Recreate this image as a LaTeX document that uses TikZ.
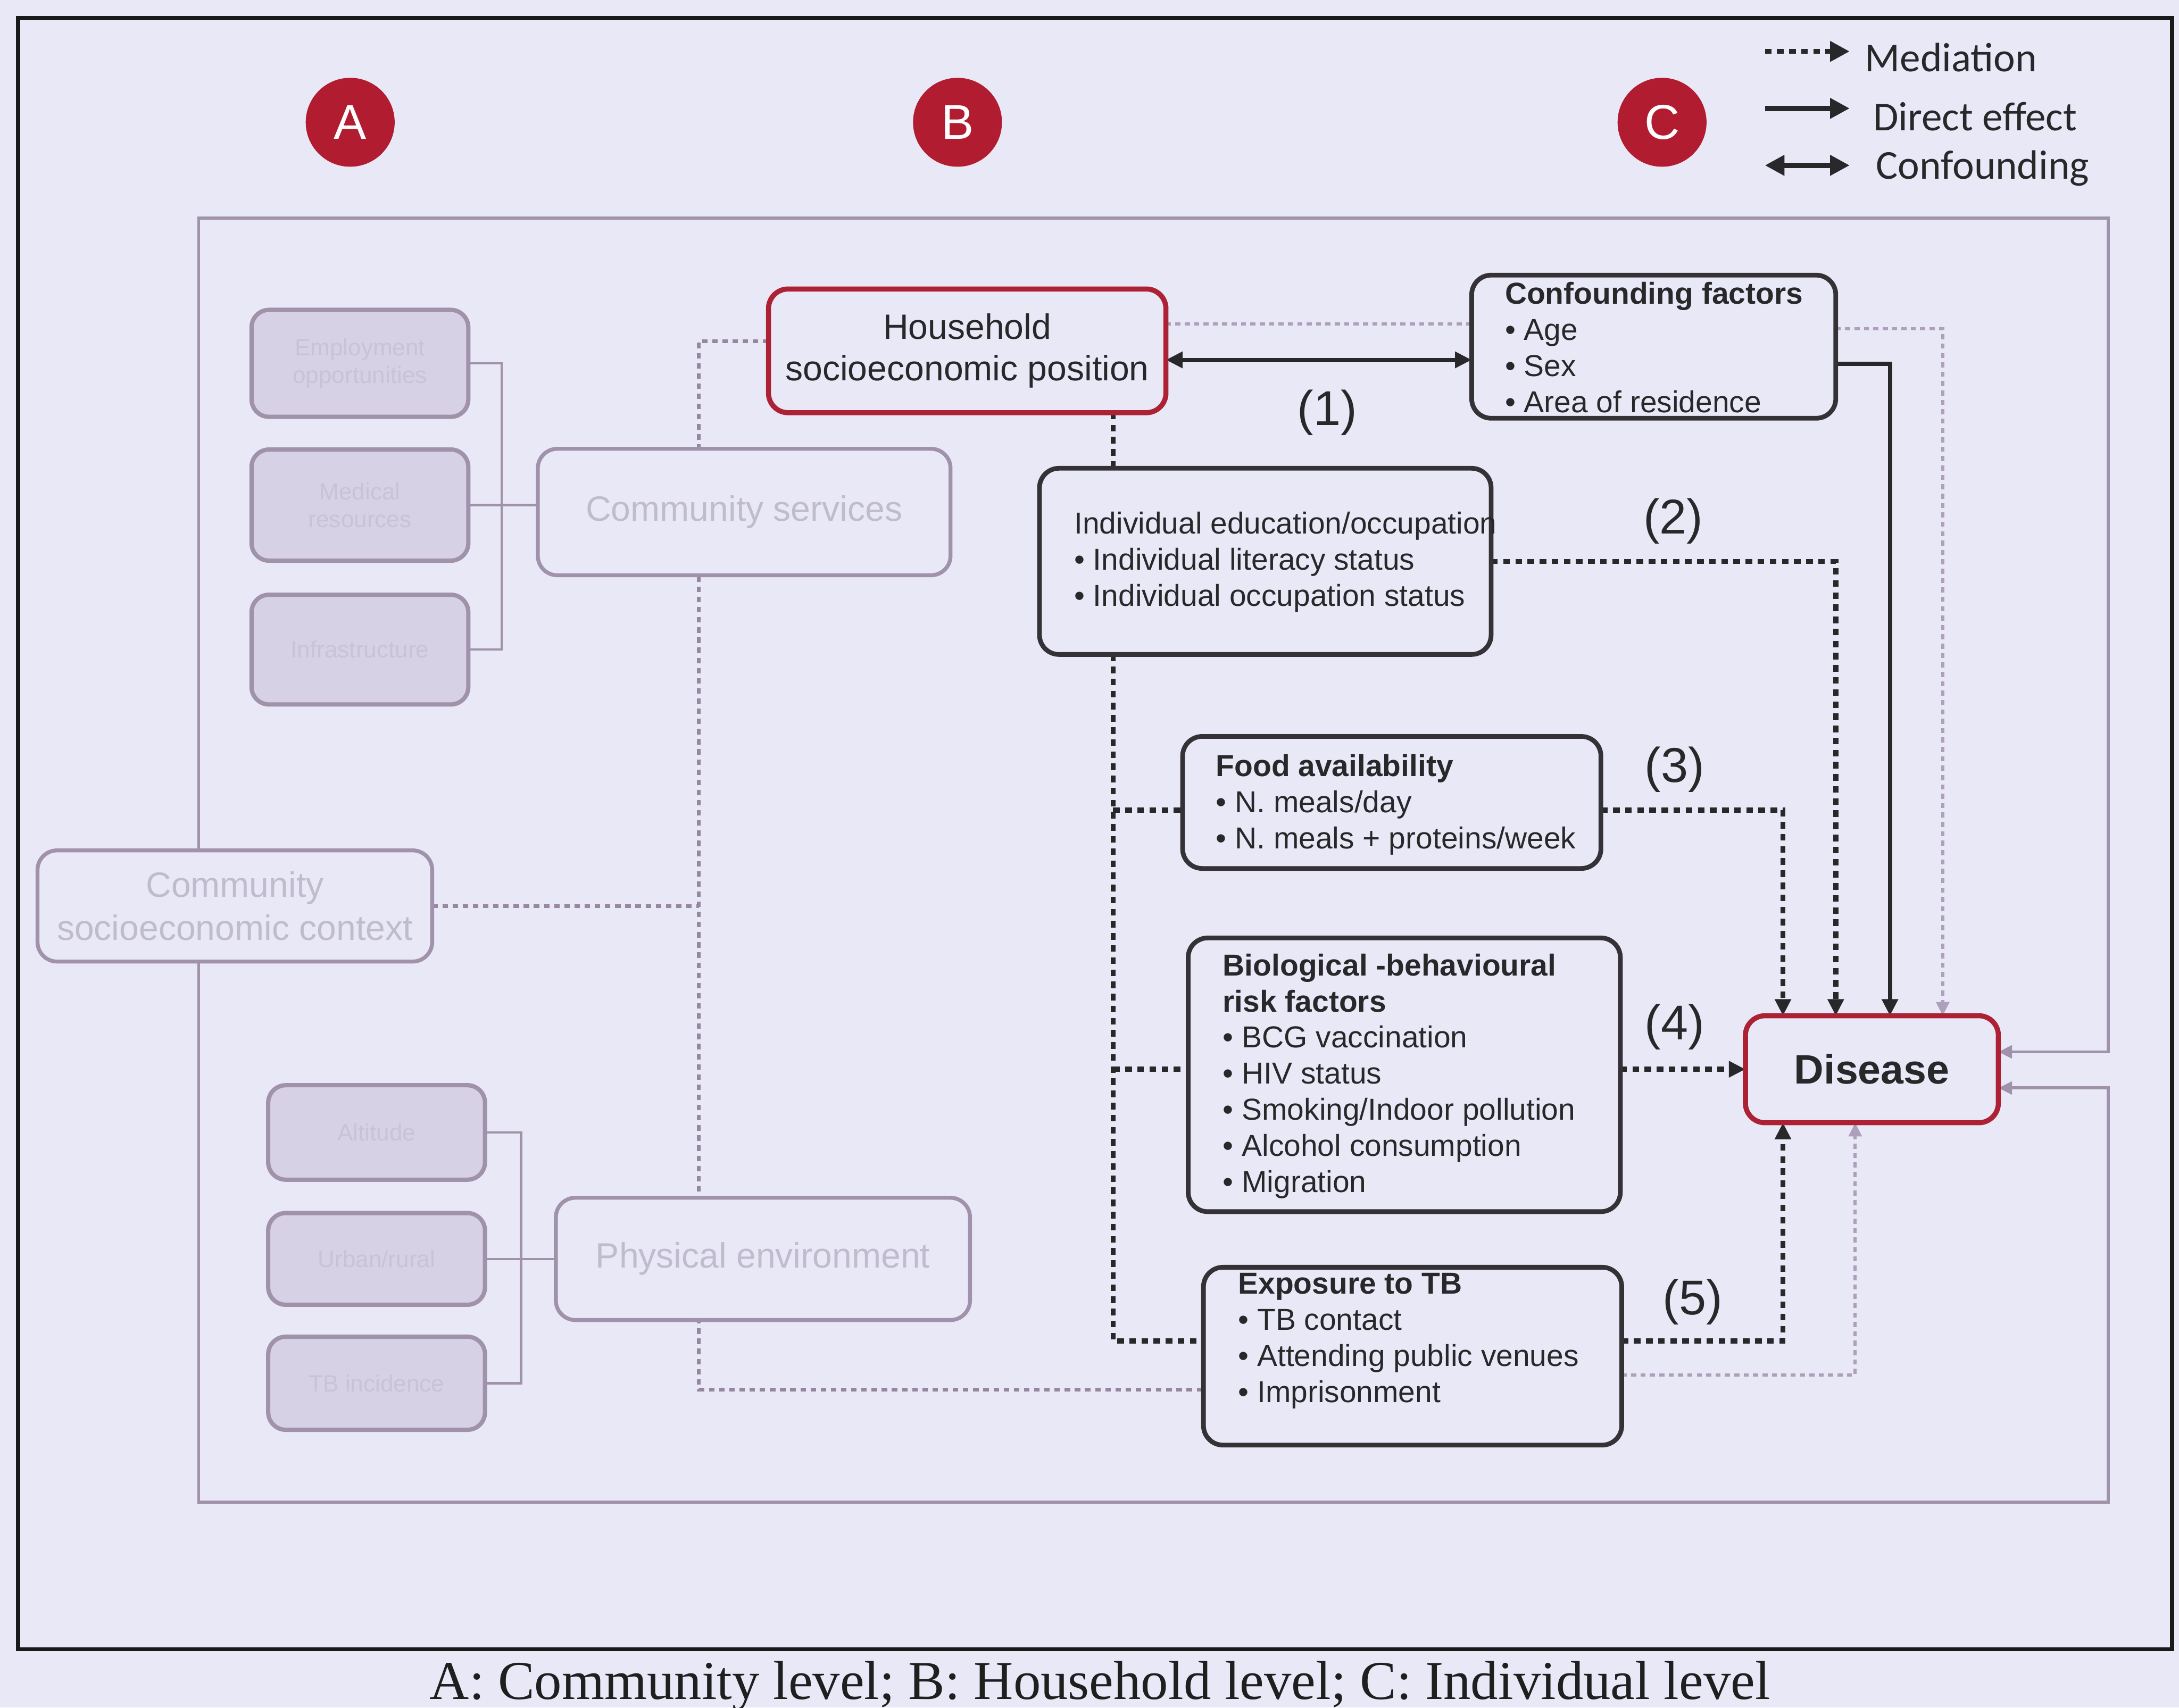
\documentclass[tikz,border=0pt]{standalone}
\usepackage{fontspec}
\setmainfont{Liberation Sans}
\newfontfamily\legendfont{Carlito}
\newfontfamily\capfont{Liberation Serif}
\usetikzlibrary{arrows.meta,calc}
\pgfdeclarelayer{paper}
\pgfdeclarelayer{links}
\pgfsetlayers{paper,links,main}

\definecolor{pagebg}{RGB}{233,232,247}
\definecolor{ink}{RGB}{40,40,42}
\definecolor{boxline}{RGB}{52,50,54}
\definecolor{sepred}{RGB}{172,34,52}
\definecolor{badge}{RGB}{178,28,48}
\definecolor{fadeline}{RGB}{160,146,170}
\definecolor{bdot}{RGB}{150,134,160}
\definecolor{fadedot}{RGB}{172,160,186}
\definecolor{fadetext}{RGB}{192,188,206}
\definecolor{fadefill}{RGB}{214,209,228}
\definecolor{ghosttext}{RGB}{200,196,216}

\begin{document}
\begin{tikzpicture}[x=0.025cm, y=-0.025cm,
  every node/.style={inner sep=0pt, outer sep=0pt, text=ink},
  sz/.style n args={2}{minimum width=#1*0.025cm, minimum height=#2*0.025cm},
  mainbox/.style={draw=boxline, line width=2.4pt, rounded corners=10pt, fill=pagebg},
  redbox/.style={draw=sepred, line width=2.6pt, rounded corners=10pt, fill=pagebg},
  fadebox/.style={draw=fadeline, line width=2pt, rounded corners=10pt, fill=pagebg, text=fadetext},
  greybox/.style={draw=fadeline, line width=2.2pt, rounded corners=9pt, fill=fadefill,
    text=ghosttext, font=\fontsize{12}{14}\selectfont, align=center},
  boxtext/.style={anchor=west, align=left, font=\fontsize{15.5}{18.5}\selectfont},
  pathno/.style={font=\fontsize{25}{30}\selectfont},
  badgestyle/.style={circle, fill=badge, minimum size=64*0.025cm, text=white,
    font=\fontsize{25}{30}\selectfont},
  legendtext/.style={anchor=base west, font=\legendfont\fontsize{21}{25}\selectfont},
  mediation/.style={draw=ink, line width=2.6pt, dash pattern=on 3.4pt off 2.8pt},
  fademed/.style={draw=fadedot, line width=1.7pt, dash pattern=on 2.6pt off 2.2pt},
  bline/.style={draw=bdot, line width=1.9pt, dash pattern=on 2.8pt off 2.4pt},
  direct/.style={draw=ink, line width=2.2pt},
  fadelink/.style={draw=fadeline, line width=1.2pt},
  framelink/.style={draw=fadeline, line width=1.6pt},
  darkhead/.style={-{Triangle[length=8.5pt,width=8pt]}},
  fadehead/.style={-{Triangle[length=7pt,width=6.5pt]}},
  keyhead/.style={-{Triangle[length=10pt,width=10pt]}},
]

\begin{pgfonlayer}{paper}
  \fill[pagebg] (0,0) rectangle (1568,1229);
\end{pgfonlayer}
\useasboundingbox (0,0) rectangle (1568,1229);

% outer frame
\draw[black!90, line width=2pt] (13,13) rectangle (1563,1187);

% level badges
\node[badgestyle] (ba) at (252,88) {A};
\node[badgestyle] (bb) at (689,88) {B};
\node[badgestyle] (bc) at (1196,88) {C};

% legend
\coordinate (lm0) at (1270,37);  \coordinate (lm1) at (1331,37);
\coordinate (ld0) at (1270,78);  \coordinate (ld1) at (1331,78);
\coordinate (lc0) at (1270,119); \coordinate (lc1) at (1331,119);
\draw[mediation, keyhead] (lm0) -- (lm1);
\draw[direct, line width=2.6pt, keyhead] (ld0) -- (ld1);
\draw[direct, line width=2.6pt, {Triangle[length=10pt,width=10pt]}-{Triangle[length=10pt,width=10pt]}] (lc0) -- (lc1);
\node[legendtext] (lmt) at (1342,51.5) {Mediation};
\node[legendtext] (ldt) at (1348,94) {Direct effect};
\node[legendtext] (lct) at (1350,129) {Confounding};

% community level (faded)
\node[fadebox, sz={284}{80}, align=center, font=\fontsize{18}{22}\selectfont] (csc) at (169,652) {Community\\socioeconomic context};
\node[fadebox, sz={297}{91}, font=\fontsize{18}{21}\selectfont] (cserv) at (535.5,368.5) {Community services};
\node[fadebox, sz={298}{88}, font=\fontsize{18}{21}\selectfont] (penv) at (549,906) {Physical environment};

\node[greybox, sz={156}{77}] (g1) at (259,261.5) {Employment\\opportunities};
\node[greybox, sz={156}{80}] (g2) at (259,363.5) {Medical\\resources};
\node[greybox, sz={156}{79}] (g3) at (259,467.5) {Infrastructure};
\node[greybox, sz={156}{68}] (p1) at (271,815) {Altitude};
\node[greybox, sz={156}{66}] (p2) at (271,906) {Urban/rural};
\node[greybox, sz={156}{67}] (p3) at (271,995.5) {TB incidence};

% household and individual level
\node[redbox, sz={286}{89}, align=center, font=\fontsize{18}{21.3}\selectfont] (hh) at (696,252.5) {Household\\socioeconomic position};

\node[mainbox, sz={262}{103}] (conf) at (1190,249.5) {};
\node[boxtext] (conftxt) at (1083,250) {\textbf{Confounding factors}\\• Age\\• Sex\\• Area of residence};

\node[mainbox, sz={325}{134}] (indiv) at (910.5,404) {};
\node[boxtext] (indivtxt) at (773,404.5) {Individual education/occupation\\• Individual literacy status\\• Individual occupation status};

\node[mainbox, sz={301}{95}] (food) at (1001.5,577.5) {};
\node[boxtext] (foodtxt) at (875,579) {\textbf{Food availability}\\• N. meals/day\\• N. meals + proteins/week};

\node[mainbox, sz={311}{197}] (bio) at (1010.5,773.5) {};
\node[boxtext] (biotxt) at (880,774.5) {\textbf{Biological -behavioural}\\\textbf{risk factors}\\• BCG vaccination\\• HIV status\\• Smoking/Indoor pollution\\• Alcohol consumption\\• Migration};

\node[mainbox, sz={301}{128}] (expo) at (1016.5,976) {};
\node[boxtext] (expotxt) at (891,965) {\textbf{Exposure to TB}\\• TB contact\\• Attending public venues\\• Imprisonment};

\node[redbox, sz={182}{77}, font=\fontsize{21}{25}\selectfont\bfseries] (dis) at (1347,769.5) {Disease};

% pathway numbers
\node[pathno] (n1) at (955,297) {(1)};
\node[pathno] (n2) at (1204,375) {(2)};
\node[pathno] (n3) at (1205,554) {(3)};
\node[pathno] (n4) at (1205,739) {(4)};
\node[pathno] (n5) at (1218,937) {(5)};

% caption
\node[anchor=base, font=\capfont\fontsize{28}{32}\selectfont, text=black!88] (cap) at (791.5,1223) {A: Community level; B: Household level; C: Individual level};

\begin{pgfonlayer}{links}
  % community-level frame feeding into the outcome
  \coordinate (lbus) at (143,157);
  \coordinate (rtop) at (1517,157);
  \coordinate (lbot) at (143,1081);
  \coordinate (rbot) at (1517,1081);
  \draw[framelink, fadehead] (lbus |- csc.north) -- (lbus) -- (rtop) |- ($(dis.east)+(0,-12.5)$);
  \draw[framelink, fadehead] (lbot |- csc.south) -- (lbot) -- (rbot) |- ($(dis.east)+(0,13.5)$);

  % community sub-components
  \coordinate (gbus) at (361,0);
  \draw[fadelink] (g1.east) -| (gbus |- g3.east) -- (g3.east);
  \draw[fadelink] (g2.east) -- (g2.east -| cserv.west);
  \coordinate (pbus) at (375,0);
  \draw[fadelink] (p1.east) -| (pbus |- p3.east) -- (p3.east);
  \draw[fadelink] (p2.east) -- (p2.east -| penv.west);

  % household-level mediation spine
  \coordinate (bbus) at (503,0);
  \coordinate (hhB) at ($(hh.west)+(0,-7)$);
  \coordinate (expoB) at ($(expo.west)+(0,24)$);
  \draw[bline] (hhB) -| (bbus |- expoB) -- (expoB);
  \draw[bline] (csc.east) -- (csc.east -| bbus);

  % confounding
  \coordinate (hhC) at ($(hh.east)+(0,-19.5)$);
  \draw[fademed] (hhC) -- (hhC -| conf.west);
  \coordinate (confG) at ($(conf.east)+(0,-13)$);
  \draw[fademed, fadehead] (confG) -| ($(dis.north)+(51,0)$);
  \coordinate (confD) at ($(conf.east)+(0,12.5)$);
  \draw[direct, darkhead] (confD) -| ($(dis.north)+(13,0)$);
  \coordinate (hhD) at ($(hh.east)+(0,6.5)$);
  \draw[direct, {Triangle[length=8.5pt,width=8pt]}-{Triangle[length=8.5pt,width=8pt]}] (hhD) -- (hhD -| conf.west);

  % mediation through individual-level factors
  \coordinate (trunk) at (801,0);
  \draw[mediation] (hh.south -| trunk) -- (indiv.north -| trunk);
  \coordinate (expoM) at ($(expo.west)+(0,-11)$);
  \draw[mediation] (indiv.south -| trunk) |- (expoM);
  \coordinate (foodM) at ($(food.west)+(0,5.5)$);
  \draw[mediation] (trunk |- foodM) -- (foodM);
  \coordinate (bioM) at (bio.west |- dis.west);
  \draw[mediation] (trunk |- bioM) -- (bioM);

  \draw[mediation, darkhead] (indiv.east) -| ($(dis.north)+(-26,0)$);
  \coordinate (foodE) at ($(food.east)+(0,5.5)$);
  \draw[mediation, darkhead] (foodE) -| ($(dis.north)+(-64,0)$);
  \draw[mediation, darkhead] (bio.east |- dis.west) -- (dis.west);
  \coordinate (expoE) at ($(expo.east)+(0,-11)$);
  \draw[mediation, darkhead] (expoE) -| ($(dis.south)+(-64,0)$);
  \coordinate (expoG) at ($(expo.east)+(0,13.5)$);
  \draw[fademed, fadehead] (expoG) -| ($(dis.south)+(-12,0)$);
\end{pgfonlayer}

\end{tikzpicture}
\end{document}
